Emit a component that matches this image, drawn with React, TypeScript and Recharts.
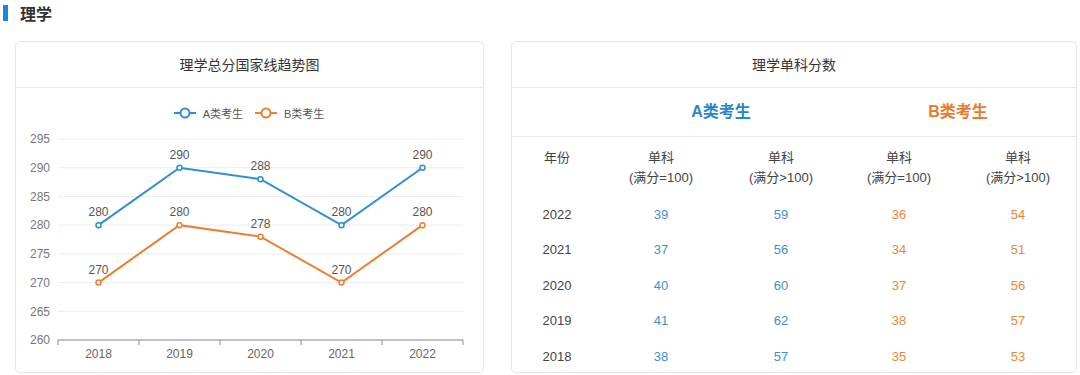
import React from 'react';
import { LineChart, Line, XAxis, YAxis, CartesianGrid, Legend, LabelList } from 'recharts';

const years = ['2018', '2019', '2020', '2021', '2022'];
const totalA = [280, 290, 288, 280, 290];
const totalB = [270, 280, 278, 270, 280];
const yTicks = [260, 265, 270, 275, 280, 285, 290, 295];

const tableYears = ['2022', '2021', '2020', '2019', '2018'];
const aEq100 = [39, 37, 40, 41, 38];
const aGt100 = [59, 56, 60, 62, 57];
const bEq100 = [36, 34, 37, 38, 35];
const bGt100 = [54, 51, 56, 57, 53];

const BLUE = '#2f8ed8';
const ORANGE = '#ec7f32';
const TBL_BLUE = '#3f8fcf';
const TBL_ORANGE = '#e8873c';
const FONT = '"Liberation Sans", Arial, "Noto Sans CJK SC", sans-serif';

const chartData = years.map((y, i) => ({ year: y, A: totalA[i], B: totalB[i] }));

const LegendContent = () => {
  const items = [
    { name: 'A类考生', color: BLUE },
    { name: 'B类考生', color: ORANGE },
  ];
  return (
    <div style={{ display: 'flex', justifyContent: 'center', height: 20, alignItems: 'center', fontFamily: FONT }}>
      {items.map((it) => (
        <div key={it.name} style={{ display: 'flex', alignItems: 'center', margin: '0 6px' }}>
          <svg width={22} height={12} style={{ marginRight: 7 }}>
            <line x1={0} y1={6} x2={22} y2={6} stroke={it.color} strokeWidth={2} />
            <circle cx={11} cy={6} r={4.5} fill="#fff" stroke={it.color} strokeWidth={2} />
          </svg>
          <span style={{ fontSize: 11, color: '#555' }}>{it.name}</span>
        </div>
      ))}
    </div>
  );
};

const XTick = (props: any) => {
  const { x, y, payload, index } = props;
  const off = payload.offset || 0;
  return (
    <g>
      <line x1={x - off} y1={y} x2={x - off} y2={y + 5} stroke="#8c8c8c" />
      {index === years.length - 1 && (
        <line x1={x + off} y1={y} x2={x + off} y2={y + 5} stroke="#8c8c8c" />
      )}
      <text x={x} y={y + 18} textAnchor="middle" fontSize={12} fill="#666" fontFamily={FONT}>
        {payload.value}
      </text>
    </g>
  );
};

const card: React.CSSProperties = {
  position: 'absolute',
  top: 41,
  height: 332,
  border: '1px solid #e6e6e6',
  borderRadius: 5,
  boxSizing: 'border-box',
  background: '#fff',
};

const colCenters = [45, 149, 269, 387, 506];

export default function App() {
  const cell = (left: number, top: number, text: string | number, color: string, extra: React.CSSProperties = {}) => (
    <div
      style={{
        position: 'absolute',
        left: left - 60,
        width: 120,
        top,
        textAlign: 'center',
        fontSize: 13,
        color,
        lineHeight: '18px',
        ...extra,
      }}
    >
      {text}
    </div>
  );
  const rowsTop = [206, 241, 277, 312, 348];
  return (
    <div style={{ position: 'relative', width: 1080, height: 375, background: '#fff', fontFamily: FONT, overflow: 'hidden' }}>
      <style>{`body{margin:0}`}</style>
      <div style={{ position: 'absolute', left: 3, top: 5, width: 5, height: 16, background: '#1c86de' }} />
      <div style={{ position: 'absolute', left: 20, top: 2, fontSize: 16, fontWeight: 'bold', color: '#333', lineHeight: '22px', fontFamily: '"Noto Sans CJK SC", sans-serif' }}>
        理学
      </div>

      <div style={{ ...card, left: 15, width: 469 }}>
        <div style={{ position: 'absolute', left: 0, right: 0, top: 12, textAlign: 'center', fontSize: 14, color: '#333', lineHeight: '22px' }}>
          理学总分国家线趋势图
        </div>
        <div style={{ position: 'absolute', left: 0, right: 0, top: 45, borderTop: '1px solid #e8e8e8' }} />
      </div>

      <div style={{ position: 'absolute', left: 15, top: 88 }}>
        <LineChart width={468} height={287} data={chartData} margin={{ top: 31, right: 20, bottom: 5, left: 0 }}>
          <Legend verticalAlign="top" content={<LegendContent />} wrapperStyle={{ top: 15, left: 0, width: 468 }} />
          <CartesianGrid horizontal vertical={false} stroke="#ececec" />
          <XAxis
            dataKey="year"
            scale="band"
            axisLine={{ stroke: '#8c8c8c' }}
            tickLine={false}
            tickSize={0}
            tickMargin={0}
            height={30}
            tick={<XTick />}
            interval={0}
          />
          <YAxis
            domain={[260, 295]}
            ticks={yTicks}
            width={43}
            axisLine={false}
            tickLine={false}
            tickSize={0}
            tickMargin={8}
            tick={{ fontSize: 12, fill: '#777', fontFamily: FONT }}
            interval={0}
          />
          <Line
            type="linear"
            dataKey="A"
            stroke={BLUE}
            strokeWidth={2}
            dot={{ r: 2.5, fill: '#fff', stroke: BLUE, strokeWidth: 1.5 }}
            isAnimationActive={false}
          >
            <LabelList dataKey="A" position="top" offset={9} fontSize={12} fill="#555" fontFamily={FONT} />
          </Line>
          <Line
            type="linear"
            dataKey="B"
            stroke={ORANGE}
            strokeWidth={2}
            dot={{ r: 2.5, fill: '#fff', stroke: ORANGE, strokeWidth: 1.5 }}
            isAnimationActive={false}
          >
            <LabelList dataKey="B" position="top" offset={9} fontSize={12} fill="#555" fontFamily={FONT} />
          </Line>
        </LineChart>
      </div>

      <div style={{ ...card, left: 511, width: 566 }}>
        <div style={{ position: 'absolute', left: 0, right: 0, top: 12, textAlign: 'center', fontSize: 14, color: '#333', lineHeight: '22px' }}>
          理学单科分数
        </div>
        <div style={{ position: 'absolute', left: 0, right: 0, top: 45, borderTop: '1px solid #e8e8e8' }} />
        <div style={{ position: 'absolute', left: 209 - 80, width: 160, top: 59, textAlign: 'center', fontSize: 16, fontWeight: 'bold', color: '#2a86cf', lineHeight: '22px' }}>
          A类考生
        </div>
        <div style={{ position: 'absolute', left: 446 - 80, width: 160, top: 59, textAlign: 'center', fontSize: 16, fontWeight: 'bold', color: '#ea7b2c', lineHeight: '22px' }}>
          B类考生
        </div>
        <div style={{ position: 'absolute', left: 0, right: 0, top: 94, borderTop: '1px solid #e8e8e8' }} />
        {cell(colCenters[0], 107, '年份', '#444')}
        {[1, 2, 3, 4].map((c) => (
          <React.Fragment key={c}>
            {cell(colCenters[c], 107, '单科', '#444')}
            {cell(colCenters[c], 127, c % 2 === 1 ? '(满分=100)' : '(满分>100)', '#444')}
          </React.Fragment>
        ))}
        {tableYears.map((yr, i) => (
          <React.Fragment key={yr}>
            {cell(colCenters[0], rowsTop[i] - 42, yr, '#444')}
            {cell(colCenters[1], rowsTop[i] - 42, aEq100[i], TBL_BLUE)}
            {cell(colCenters[2], rowsTop[i] - 42, aGt100[i], TBL_BLUE)}
            {cell(colCenters[3], rowsTop[i] - 42, bEq100[i], TBL_ORANGE)}
            {cell(colCenters[4], rowsTop[i] - 42, bGt100[i], TBL_ORANGE)}
          </React.Fragment>
        ))}
      </div>
    </div>
  );
}
